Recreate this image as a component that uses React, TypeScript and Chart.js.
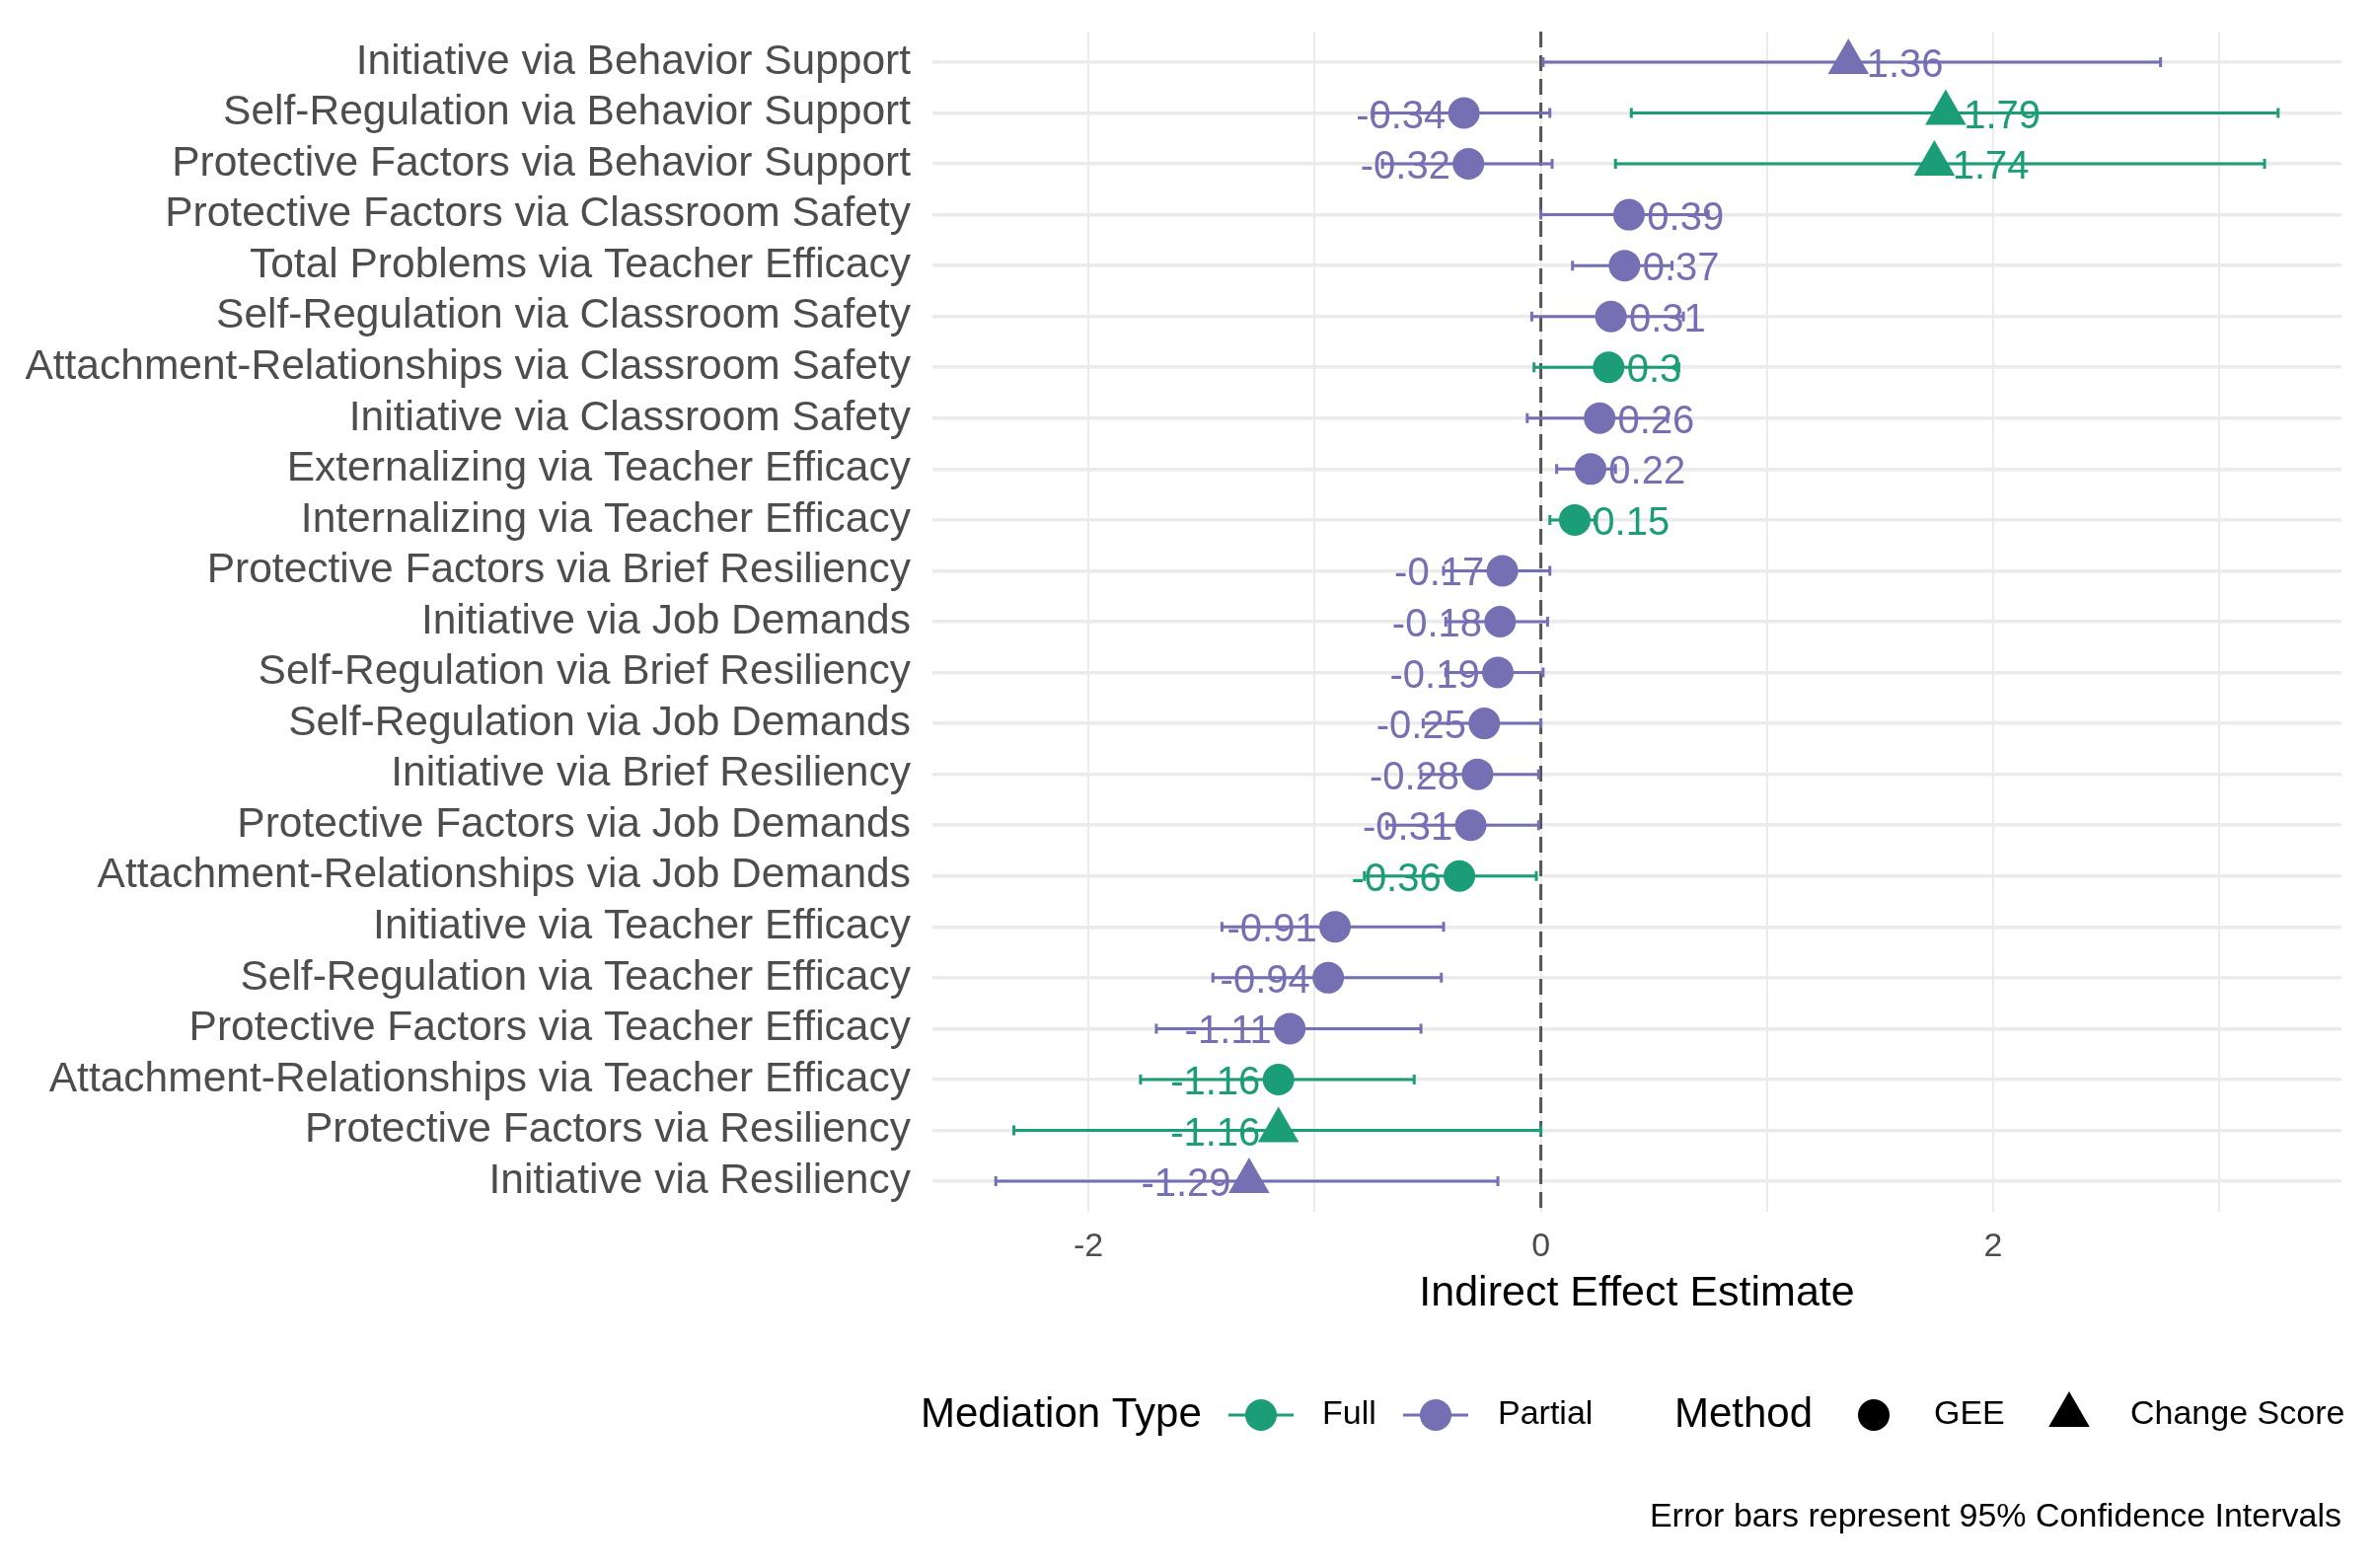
import React, { useEffect, useRef } from "react";
import { Chart, registerables } from "chart.js";

Chart.register(...registerables);

// ---------- DATA ----------
const categories = [
  "Initiative via Behavior Support",
  "Self-Regulation via Behavior Support",
  "Protective Factors via Behavior Support",
  "Protective Factors via Classroom Safety",
  "Total Problems via Teacher Efficacy",
  "Self-Regulation via Classroom Safety",
  "Attachment-Relationships via Classroom Safety",
  "Initiative via Classroom Safety",
  "Externalizing via Teacher Efficacy",
  "Internalizing via Teacher Efficacy",
  "Protective Factors via Brief Resiliency",
  "Initiative via Job Demands",
  "Self-Regulation via Brief Resiliency",
  "Self-Regulation via Job Demands",
  "Initiative via Brief Resiliency",
  "Protective Factors via Job Demands",
  "Attachment-Relationships via Job Demands",
  "Initiative via Teacher Efficacy",
  "Self-Regulation via Teacher Efficacy",
  "Protective Factors via Teacher Efficacy",
  "Attachment-Relationships via Teacher Efficacy",
  "Protective Factors via Resiliency",
  "Initiative via Resiliency",
];

const entryCategory = [
  "Initiative via Behavior Support",
  "Self-Regulation via Behavior Support",
  "Self-Regulation via Behavior Support",
  "Protective Factors via Behavior Support",
  "Protective Factors via Behavior Support",
  "Protective Factors via Classroom Safety",
  "Total Problems via Teacher Efficacy",
  "Self-Regulation via Classroom Safety",
  "Attachment-Relationships via Classroom Safety",
  "Initiative via Classroom Safety",
  "Externalizing via Teacher Efficacy",
  "Internalizing via Teacher Efficacy",
  "Protective Factors via Brief Resiliency",
  "Initiative via Job Demands",
  "Self-Regulation via Brief Resiliency",
  "Self-Regulation via Job Demands",
  "Initiative via Brief Resiliency",
  "Protective Factors via Job Demands",
  "Attachment-Relationships via Job Demands",
  "Initiative via Teacher Efficacy",
  "Self-Regulation via Teacher Efficacy",
  "Protective Factors via Teacher Efficacy",
  "Attachment-Relationships via Teacher Efficacy",
  "Protective Factors via Resiliency",
  "Initiative via Resiliency",
];

const estimates = [
  1.36, -0.34, 1.79, -0.32, 1.74, 0.39, 0.37, 0.31, 0.3, 0.26, 0.22, 0.15,
  -0.17, -0.18, -0.19, -0.25, -0.28, -0.31, -0.36, -0.91, -0.94, -1.11, -1.16,
  -1.16, -1.29,
];

const lowerCI = [
  0.01, -0.74, 0.4, -0.7, 0.33, 0.0, 0.14, -0.04, -0.03, -0.06, 0.07, 0.04,
  -0.43, -0.42, -0.42, -0.52, -0.53, -0.68, -0.78, -1.41, -1.45, -1.7, -1.77,
  -2.33, -2.41,
];

const upperCI = [
  2.74, 0.04, 3.26, 0.05, 3.2, 0.74, 0.58, 0.63, 0.61, 0.56, 0.33, 0.24, 0.04,
  0.03, 0.01, 0.0, -0.01, -0.01, -0.02, -0.43, -0.44, -0.53, -0.56, 0.0, -0.19,
];

const mediationType = [
  "Partial", "Partial", "Full", "Partial", "Full", "Partial", "Partial",
  "Partial", "Full", "Partial", "Partial", "Full", "Partial", "Partial",
  "Partial", "Partial", "Partial", "Partial", "Full", "Partial", "Partial",
  "Partial", "Full", "Full", "Partial",
];

const methodType = [
  "Change Score", "GEE", "Change Score", "GEE", "Change Score", "GEE", "GEE",
  "GEE", "GEE", "GEE", "GEE", "GEE", "GEE", "GEE", "GEE", "GEE", "GEE", "GEE",
  "GEE", "GEE", "GEE", "GEE", "GEE", "Change Score", "Change Score",
];

const xTickValues = [-2, -1, 0, 1, 2, 3];
const xTickLabelled = [-2, 0, 2];
const mediationLevels = ["Full", "Partial"];
const methodLevels = ["GEE", "Change Score"];

const xAxisTitle = "Indirect Effect Estimate";
const captionText = "Error bars represent 95% Confidence Intervals";

// ---------- STYLE ----------
const FONT = '"Liberation Sans", Arial, Helvetica, sans-serif';
const COLORS: Record<string, string> = { Full: "#1B9E77", Partial: "#7570B3" };
const W = 2408;
const H = 1589;

const fontStr = (size: number) => `${size}px ${FONT}`;

function drawShape(
  ctx: CanvasRenderingContext2D,
  shape: string,
  x: number,
  y: number,
  r: number,
  color: string
) {
  ctx.fillStyle = color;
  ctx.beginPath();
  if (shape === "GEE") {
    ctx.arc(x, y, r, 0, Math.PI * 2);
  } else {
    ctx.moveTo(x, y - r);
    ctx.lineTo(x + r * Math.sin((2 * Math.PI) / 3), y + r / 2);
    ctx.lineTo(x - r * Math.sin((2 * Math.PI) / 3), y + r / 2);
    ctx.closePath();
  }
  ctx.fill();
}

const forestPlugin = {
  id: "forestExtras",
  beforeDatasetsDraw(chart: any) {
    const { ctx, chartArea } = chart;
    const xs = chart.scales.x;
    const ys = chart.scales.y;
    ctx.save();
    // zero reference line
    const x0 = xs.getPixelForValue(0);
    ctx.strokeStyle = "#555555";
    ctx.lineWidth = 3;
    ctx.setLineDash([16, 8]);
    ctx.beginPath();
    ctx.moveTo(x0, chartArea.top);
    ctx.lineTo(x0, chartArea.bottom);
    ctx.stroke();
    ctx.setLineDash([]);
    // error bars
    for (let i = 0; i < estimates.length; i++) {
      const row = categories.indexOf(entryCategory[i]);
      const yp = ys.getPixelForValue(row);
      const x1 = xs.getPixelForValue(lowerCI[i]);
      const x2 = xs.getPixelForValue(upperCI[i]);
      ctx.strokeStyle = COLORS[mediationType[i]];
      ctx.lineWidth = 3;
      ctx.beginPath();
      ctx.moveTo(x1, yp);
      ctx.lineTo(x2, yp);
      ctx.moveTo(x1, yp - 5);
      ctx.lineTo(x1, yp + 5);
      ctx.moveTo(x2, yp - 5);
      ctx.lineTo(x2, yp + 5);
      ctx.stroke();
    }
    ctx.restore();
  },
  afterDatasetsDraw(chart: any) {
    const { ctx } = chart;
    const xs = chart.scales.x;
    const ys = chart.scales.y;
    ctx.save();
    ctx.font = fontStr(40);
    ctx.textBaseline = "middle";
    for (let i = 0; i < estimates.length; i++) {
      const row = categories.indexOf(entryCategory[i]);
      const yp = ys.getPixelForValue(row) + 4;
      const pos = estimates[i] > 0;
      const xp = xs.getPixelForValue(estimates[i] + (pos ? 0.08 : -0.08));
      ctx.textAlign = pos ? "left" : "right";
      ctx.fillStyle = COLORS[mediationType[i]];
      ctx.fillText(String(estimates[i]), xp, yp);
    }
    ctx.restore();
  },
  afterDraw(chart: any) {
    const { ctx } = chart;
    ctx.save();
    const ly = 1434;
    ctx.textBaseline = "middle";
    ctx.textAlign = "left";
    ctx.fillStyle = "#000000";
    ctx.font = fontStr(42);
    ctx.fillText("Mediation Type", 933, ly);
    const medKeyX = [1278, 1455];
    const medLabelX = [1340, 1518];
    mediationLevels.forEach((lvl, k) => {
      const c = COLORS[lvl];
      ctx.strokeStyle = c;
      ctx.lineWidth = 3;
      ctx.beginPath();
      ctx.moveTo(medKeyX[k] - 33, ly);
      ctx.lineTo(medKeyX[k] + 33, ly);
      ctx.stroke();
      drawShape(ctx, "GEE", medKeyX[k], ly, 16, c);
      ctx.fillStyle = "#000000";
      ctx.font = fontStr(34);
      ctx.fillText(lvl, medLabelX[k], ly);
    });
    ctx.font = fontStr(42);
    ctx.fillStyle = "#000000";
    ctx.fillText("Method", 1697, ly);
    const methKeyX = [1899, 2097];
    const methLabelX = [1960, 2159];
    methodLevels.forEach((lvl, k) => {
      drawShape(ctx, lvl, methKeyX[k], ly, lvl === "GEE" ? 16 : 24, "#000000");
      ctx.fillStyle = "#000000";
      ctx.font = fontStr(34);
      ctx.fillText(lvl, methLabelX[k], ly);
    });
    // caption
    ctx.textAlign = "right";
    ctx.font = fontStr(34);
    ctx.fillText(captionText, 2373, 1538);
    ctx.restore();
  },
};

export default function App() {
  const ref = useRef<HTMLCanvasElement | null>(null);

  useEffect(() => {
    if (!ref.current) return;
    const points = estimates.map((e, i) => ({
      x: e,
      y: categories.indexOf(entryCategory[i]),
    }));
    const chart = new Chart(ref.current, {
      type: "scatter",
      data: {
        datasets: [
          {
            data: points,
            pointStyle: methodType.map((m) => (m === "GEE" ? "circle" : "triangle")),
            pointRadius: methodType.map((m) => (m === "GEE" ? 16 : 24)),
            pointBackgroundColor: mediationType.map((t) => COLORS[t]),
            pointBorderWidth: 0,
            pointBorderColor: mediationType.map((t) => COLORS[t]),
          } as any,
        ],
      },
      options: {
        animation: false,
        responsive: false,
        devicePixelRatio: 1,
        events: [],
        layout: { padding: { left: 0, top: 32, right: 35, bottom: 252 } },
        plugins: {
          legend: { display: false },
          tooltip: { enabled: false },
        },
        scales: {
          x: {
            type: "linear",
            min: -2.69,
            max: 3.54,
            afterBuildTicks: (scale: any) => {
              scale.ticks = xTickValues.map((v) => ({ value: v }));
            },
            afterFit: (scale: any) => {
              scale.height = 109;
              scale.paddingLeft = 0;
              scale.paddingRight = 0;
            },
            ticks: {
              callback: (v: any) => (xTickLabelled.includes(Number(v)) ? String(v) : ""),
              color: "#4D4D4D",
              font: { family: FONT, size: 34 },
              padding: 15,
              maxRotation: 0,
              autoSkip: false,
            },
            grid: { color: "#EBEBEB", lineWidth: 2, drawTicks: false },
            border: { display: false },
            title: {
              display: true,
              text: xAxisTitle,
              color: "#000000",
              font: { family: FONT, size: 43 },
              padding: { top: 0, bottom: 0 },
            },
          },
          y: {
            type: "linear",
            reverse: true,
            min: -0.6,
            max: categories.length - 1 + 0.6,
            afterBuildTicks: (scale: any) => {
              scale.ticks = categories.map((_, i) => ({ value: i }));
            },
            afterFit: (scale: any) => {
              scale.width = 945;
              scale.paddingTop = 0;
              scale.paddingBottom = 0;
            },
            ticks: {
              callback: (v: any) => categories[Number(v)] ?? "",
              color: "#4D4D4D",
              font: { family: FONT, size: 42.5 },
              padding: 22,
              autoSkip: false,
            },
            grid: { color: "#EBEBEB", lineWidth: 3.5, drawTicks: false },
            border: { display: false },
          },
        },
      },
      plugins: [forestPlugin],
    });
    return () => chart.destroy();
  }, []);

  return (
    <div
      style={{
        position: "fixed",
        left: 0,
        top: 0,
        width: W,
        height: H,
        background: "#ffffff",
      }}
    >
      <canvas ref={ref} width={W} height={H} style={{ width: W, height: H }} />
    </div>
  );
}
